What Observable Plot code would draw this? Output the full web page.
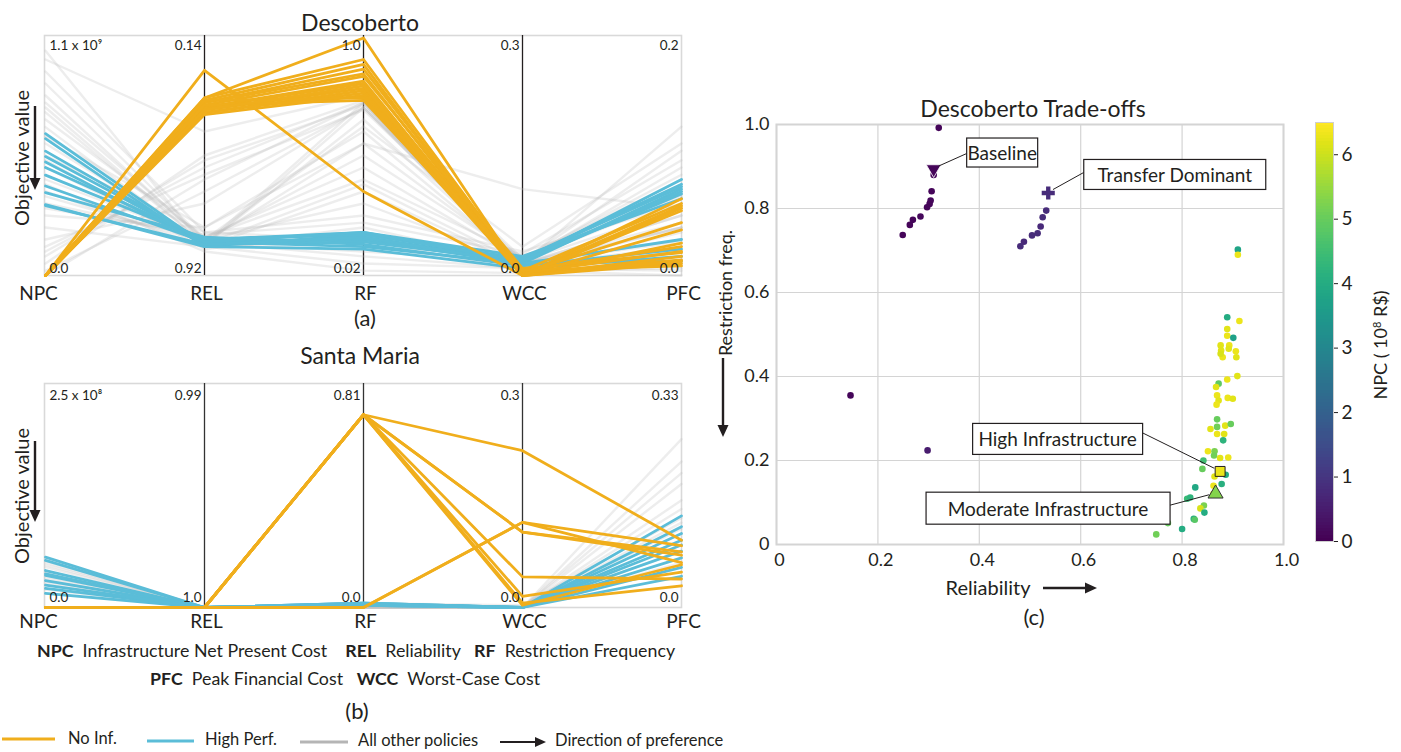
<!DOCTYPE html>
<html><head><meta charset="utf-8">
<script src="https://cdn.jsdelivr.net/npm/d3@7"></script>
<script src="https://cdn.jsdelivr.net/npm/@observablehq/plot@0.6"></script>
<style>
html,body{margin:0;padding:0;background:#fff;}
#root{position:relative;width:1401px;height:752px;overflow:hidden;font-family:Lato,"Open Sans",sans-serif;color:#231f20;}
.t{position:absolute;white-space:nowrap;line-height:1;transform:translate(-50%,-50%);}
.l{position:absolute;white-space:nowrap;line-height:1;transform:translate(0,-50%);}
.r{position:absolute;white-space:nowrap;line-height:1;transform:translate(-50%,-50%) rotate(-90deg);}
b{font-weight:700;}
</style></head>
<body><div id="root"></div>
<script>
// ---------------- DATA ----------------
const axesNames = ["NPC","REL","RF","WCC","PFC"];

// Panel (a) Descoberto — NPC in 10^8 R$, REL, RF, WCC, PFC
const descBottom = [0, 0.92, 0.02, 0, 0];
const descTop = [11, 0.14, 1.0, 0.3, 0.2];
const descTopLabels = ["1.1 x 10⁹","0.14","1.0","0.3","0.2"];
const descBottomLabels = ["0.0","0.92","0.02","0.0","0.0"];
const descNoInf = [
  [0,0.253,0.363,0.000,0.058],[0,0.343,0.990,0.000,0.064],[0,0.343,0.902,0.003,0.044],
  [0,0.351,0.882,0.000,0.038],[0,0.358,0.863,0.006,0.060],[0,0.358,0.843,0.000,0.027],
  [0,0.366,0.833,0.009,0.019],[0,0.374,0.814,0.000,0.016],[0,0.374,0.804,0.003,0.013],
  [0,0.382,0.784,0.000,0.010],[0,0.390,0.775,0.006,0.008],[0,0.390,0.765,0.000,0.056],
  [0,0.397,0.755,0.003,0.020],[0,0.351,0.745,0.000,0.012],[0,0.366,0.735,0.006,0.024],
  [0,0.382,0.794,0.000,0.054]
];
const descHighPerf = [
  [6.50,0.819,0.177,0.018,0.080],[6.27,0.826,0.187,0.021,0.076],[5.45,0.811,0.167,0.015,0.072],
  [5.20,0.819,0.157,0.018,0.068],[4.60,0.803,0.196,0.024,0.064],[4.10,0.811,0.138,0.015,0.030],
  [3.80,0.795,0.147,0.012,0.022],[3.25,0.826,0.128,0.009,0.016],[3.20,0.819,0.177,0.015,0.012],
  [4.95,0.803,0.187,0.021,0.074],[5.70,0.811,0.196,0.018,0.070]
];
const descOther = [
  [10.3,0.826,0.069,0.009,0.020],[8.8,0.803,0.314,0.015,0.050],[8.25,0.811,0.559,0.018,0.090],
  [7.7,0.819,0.726,0.012,0.040],[7.15,0.795,0.412,0.024,0.070],[6.8,0.826,0.216,0.015,0.124],
  [6.05,0.811,0.118,0.018,0.104],[5.5,0.780,0.265,0.030,0.060],[4.95,0.819,0.657,0.015,0.030],
  [4.4,0.803,0.510,0.021,0.080],[3.85,0.826,0.363,0.012,0.010],[3.3,0.795,0.461,0.018,0.056],
  [2.75,0.764,0.608,0.015,0.044],[1.65,0.686,0.706,0.012,0.024],[1.1,0.569,0.726,0.009,0.016],
  [0.55,0.530,0.735,0.006,0.036],[0.88,0.546,0.716,0.015,0.050],[1.32,0.592,0.696,0.018,0.066],
  [2.2,0.826,0.706,0.021,0.084],[6.38,0.764,0.559,0.108,0.056],[9.35,0.780,0.167,0.006,0.000],
  [9.9,0.452,0.755,0.012,0.020],[3.63,0.811,0.098,0.009,0.004],[3.08,0.787,0.236,0.027,0.096],
  [7.48,0.819,0.392,0.015,0.028],[0,0.608,0.726,0.006,0.006],[0.22,0.647,0.706,0.009,0.040],
  [4.18,0.842,0.040,0.003,0.012],[5.28,0.834,0.196,0.015,0.040],[7.92,0.803,0.628,0.036,0.110]
];

// Panel (b) Santa Maria — NPC in 10^8 R$
const smBottom = [0, 1.0, 0, 0, 0];
const smTop = [2.5, 0.99, 0.81, 0.3, 0.33];
const smTopLabels = ["2.5 x 10⁸","0.99","0.81","0.3","0.33"];
const smBottomLabels = ["0.0","1.0","0.0","0.0","0.0"];
const smNoInf = [
  [0,1.0,0.697,0.210,0.099],[0,1.0,0.697,0.101,0.082],[0,1.0,0.697,0.003,0.063],
  [0,1.0,0.697,0.015,0.052],[0,1.0,0.697,0.041,0.042],[0,1.0,0.697,0.006,0.032],
  [0,1.0,0.000,0.114,0.091],[0,1.0,0.000,0.114,0.066],[0,1.0,0.697,0.101,0.077]
];
const smHighPerf = [
  [0.5625,1.0,0.016,0,0.135],[0.525,1.0,0.012,0,0.119],[0.4125,1.0,0.008,0,0.109],
  [0.3575,1.0,0.016,0,0.092],[0.30,1.0,0.012,0,0.083],[0.2125,1.0,0.008,0,0.073],
  [0.1575,1.0,0.016,0,0.059],[0.375,1.0,0.008,0,0.046],[0.25,1.0,0.012,0,0.099]
];
const smOther = [
  [0.50,1.0,0.008,0,0.248],[0.45,1.0,0.0,0,0.215],[0.375,1.0,0.016,0,0.182],
  [0.30,1.0,0.0,0,0.158],[0.55,1.0,0.016,0.003,0.132],[0.25,1.0,0.0,0,0.116],
  [0.20,1.0,0.008,0,0.099],[0.35,1.0,0.0,0,0.083],[0.475,1.0,0.008,0,0.066],
  [0.40,1.0,0.0,0,0.145],[0.275,1.0,0.008,0,0.125],[0.325,1.0,0.0,0,0.198]
];

// Panel (c) Descoberto trade-offs: reliability, restriction frequency, NPC (10^8 R$)
const scRel = [0.320,0.310,0.306,0.304,0.302,0.297,0.284,0.269,0.263,0.249,
  0.532,0.525,0.521,0.515,0.504,0.488,0.481,0.146,0.298,
  0.910,0.910,0.889,0.913,0.889,0.889,0.901,0.876,0.893,0.877,0.892,0.906,0.907,0.880,0.876,
  0.909,0.889,0.872,0.867,0.869,0.872,0.890,0.900,0.868,0.869,0.856,0.869,0.885,0.896,0.869,
  0.883,0.881,0.851,0.864,0.863,0.875,0.891,0.842,0.840,0.886,0.864,0.878,0.826,0.862,0.862,
  0.810,0.816,0.843,0.836,0.844,0.823,0.825,0.772,0.800,0.749];
const scRf = [0.992,0.880,0.841,0.819,0.811,0.803,0.781,0.773,0.761,0.737,
  0.795,0.779,0.757,0.741,0.736,0.721,0.710,0.355,0.224,
  0.702,0.690,0.541,0.532,0.513,0.497,0.492,0.474,0.474,0.462,0.466,0.460,0.446,0.446,0.454,
  0.401,0.393,0.383,0.375,0.355,0.343,0.349,0.347,0.333,0.298,0.275,0.280,0.283,0.287,0.263,
  0.263,0.248,0.222,0.222,0.212,0.206,0.207,0.200,0.180,0.166,0.162,0.144,0.136,0.140,0.121,
  0.109,0.112,0.093,0.086,0.076,0.061,0.059,0.051,0.037,0.024];
const scNpc = [0.1,0.1,0.1,0.15,0.1,0.1,0.15,0.1,0.1,0.1,
  0.8,0.8,0.75,0.8,0.8,0.75,0.8,0.1,0.5,
  3.8,6.3,4.0,6.3,6.2,6.3,3.7,6.2,6.3,6.2,6.2,6.3,6.2,6.3,6.1,
  6.2,6.3,4.9,6.2,6.3,6.2,6.3,6.2,6.3,5.0,6.2,5.1,6.2,5.0,6.3,
  6.2,4.2,6.3,5.2,5.1,6.2,6.3,4.5,5.0,4.0,6.2,4.1,3.9,6.3,6.2,
  4.4,4.2,5.2,6.1,4.0,4.1,4.8,5.0,4.0,5.1];
const markerLabels = ["Baseline","Transfer Dominant","High Infrastructure","Moderate Infrastructure"];
const markerRel = [0.310, 0.536, 0.875, 0.866];
const markerRf = [0.894, 0.837, 0.174, 0.121];
const markerNpc = [0.1, 0.8, 6.3, 5.3];
const colorTicks = [0,1,2,3,4,5,6];

// ---------------- STYLE / LAYOUT ----------------
const FONT = "Lato, 'Open Sans', sans-serif";
const INK = "#231f20";
const ORANGE = "#f0ae1c";
const BLUE = "#5bbdd8";
const root = document.getElementById("root");

function place(el, left, top) {
  el.style.position = "absolute"; el.style.left = left + "px"; el.style.top = top + "px";
  root.appendChild(el); return el;
}
function txt(html, x, y, size, cls = "t", extra = "") {
  const d = document.createElement("div");
  d.className = cls; d.innerHTML = html;
  d.style.left = x + "px"; d.style.top = y + "px"; d.style.fontSize = size + "px";
  if (extra) d.style.cssText += extra;
  root.appendChild(d); return d;
}

function parallelChart(cfg) {
  const norms = axesNames.map((a, i) => d3.scaleLinear().domain([cfg.bottom[i], cfg.top[i]]).range([0, 1]));
  const rows = (lines, g) => lines.flatMap((vals, j) => vals.map((v, i) => ({id: g + j, axis: axesNames[i], f: norms[i](v)})));
  const labels = axesNames.flatMap((a, i) => [
    {axis: a, f: 1, t: cfg.topLabels[i], pos: "top"},
    {axis: a, f: 0, t: cfg.bottomLabels[i], pos: "bottom"}]);
  const lab = (first, pos) => labels.filter(d => (d.axis === "NPC") === first && d.pos === pos);
  return Plot.plot({
    width: 700, height: cfg.height,
    marginLeft: 44, marginRight: 19, marginTop: cfg.mt, marginBottom: cfg.mb,
    style: {fontFamily: FONT, color: INK, background: "transparent", overflow: "visible"},
    x: {type: "point", domain: axesNames, padding: 0, axis: null},
    y: {domain: [0, 1], axis: null},
    marks: [
      Plot.frame({stroke: "#d9d9d9", strokeWidth: 1.6}),
      Plot.ruleX(axesNames.slice(1, 4), {stroke: cfg.axisColor, strokeWidth: 1.3}),
      Plot.line(rows(cfg.other, "o"), {x: "axis", y: "f", z: "id", stroke: "#bdbdbd", strokeOpacity: 0.28, strokeWidth: 2.4}),
      Plot.line(rows(cfg.high, "h"), {x: "axis", y: "f", z: "id", stroke: BLUE, strokeWidth: 2.8}),
      Plot.line(rows(cfg.noinf, "n"), {x: "axis", y: "f", z: "id", stroke: ORANGE, strokeWidth: 2.8}),
      Plot.text(lab(true, "top"), {x: "axis", y: "f", text: "t", textAnchor: "start", dx: 4, dy: cfg.topDy, fontSize: 13.5}),
      Plot.text(lab(true, "bottom"), {x: "axis", y: "f", text: "t", textAnchor: "start", dx: 4, dy: cfg.botDy, fontSize: 13.5}),
      Plot.text(lab(false, "top"), {x: "axis", y: "f", text: "t", textAnchor: "end", dx: -3, dy: cfg.topDy, fontSize: 13.5}),
      Plot.text(lab(false, "bottom"), {x: "axis", y: "f", text: "t", textAnchor: "end", dx: -3, dy: cfg.botDy, fontSize: 13.5}),
      Plot.text(axesNames.slice(0, 1), {x: d => d, frameAnchor: "bottom", lineAnchor: "top", dy: cfg.namePad, dx: -7, fontSize: 19}),
      Plot.text(axesNames.slice(1), {x: d => d, frameAnchor: "bottom", lineAnchor: "top", dy: cfg.namePad, dx: 2, fontSize: 19})
    ]
  });
}

// Panel (a)
place(parallelChart({bottom: descBottom, top: descTop, topLabels: descTopLabels, bottomLabels: descBottomLabels,
  noinf: descNoInf, high: descHighPerf, other: descOther,
  height: 330, mt: 35, mb: 55, topDy: 10, botDy: -7, namePad: 11, axisColor: INK}), 0, 0);
// Panel (b)
place(parallelChart({bottom: smBottom, top: smTop, topLabels: smTopLabels, bottomLabels: smBottomLabels,
  noinf: smNoInf, high: smHighPerf, other: smOther,
  height: 305, mt: 53, mb: 28, topDy: 12, botDy: -10, namePad: 7, axisColor: "#333"}), 0, 330);

// Panel (c) scatter
const scData = scRel.map((r, i) => ({rel: r, rf: scRf[i], npc: scNpc[i]}));
const mk = markerLabels.map((l, i) => ({label: l, rel: markerRel[i], rf: markerRf[i], npc: markerNpc[i]}));
const ticks01 = [0, 0.2, 0.4, 0.6, 0.8, 1.0];
const fmt = d => d === 0 ? "0" : d.toFixed(1);
const scatter = Plot.plot({
  width: 600, height: 520, marginLeft: 76, marginRight: 17, marginTop: 29, marginBottom: 71,
  style: {fontFamily: FONT, color: INK, background: "transparent", overflow: "visible"},
  x: {domain: [0, 1]}, y: {domain: [0, 1]},
  color: {type: "linear", scheme: "viridis", domain: [0, 6.5]},
  marks: [
    Plot.gridX(ticks01, {stroke: "#d4d4d4", strokeOpacity: 1, strokeWidth: 1.2}),
    Plot.gridY(ticks01, {stroke: "#d4d4d4", strokeOpacity: 1, strokeWidth: 1.2}),
    Plot.frame({stroke: "#d4d4d4", strokeWidth: 2}),
    Plot.axisX({ticks: ticks01, tickFormat: fmt, tickSize: 0, tickPadding: 9, fontSize: 18, label: null, dx: 3}),
    Plot.axisY({ticks: ticks01, tickFormat: fmt, tickSize: 0, tickPadding: 7, fontSize: 18, label: null}),
    Plot.dot(scData, {x: "rel", y: "rf", fill: "npc", r: 3.3}),
    Plot.dot(mk.slice(0, 1), {x: "rel", y: "rf", fill: "npc", symbol: "triangle", rotate: 180, r: 5.5, stroke: "#fff", strokeWidth: 0.8}),
    Plot.dot(mk.slice(1, 2), {x: "rel", y: "rf", fill: "npc", symbol: "cross", r: 5.5}),
    Plot.dot(mk.slice(2, 3), {x: "rel", y: "rf", fill: "npc", symbol: "square", r: 5.6, stroke: INK, strokeWidth: 1}),
    Plot.dot(mk.slice(3, 4), {x: "rel", y: "rf", fill: "npc", symbol: "triangle", r: 5.6, stroke: "#333", strokeWidth: 1})
  ]
});
place(scatter, 700, 95);
// annotation boxes (layout offsets from marker, px)
const annLayout = [
  {dx: 69, dy: -16, w: 71, h: 29, side: "left", ly: 1},
  {dx: 127, dy: -18, w: 182, h: 30, side: "left", ly: -2},
  {dx: -162, dy: -32, w: 170, h: 31, side: "right", ly: -6},
  {dx: -167, dy: 15, w: 244, h: 32, side: "right", ly: -3}
];
{
  const sx = scatter.scale("x"), sy = scatter.scale("y");
  const g = d3.select(scatter).append("g").attr("font-family", FONT);
  mk.forEach((m, i) => {
    const L = annLayout[i];
    const px = sx.apply(m.rel), py = sy.apply(m.rf);
    const cx = px + L.dx, cy = py + L.dy;
    const x0 = cx - L.w / 2, y0 = cy - L.h / 2;
    const ex = L.side === "left" ? x0 : x0 + L.w, ey = cy + L.ly;
    const len = Math.hypot(px - ex, py - ey), k = (len - 6) / len;
    g.append("line").attr("x1", ex).attr("y1", ey).attr("x2", ex + (px - ex) * k).attr("y2", ey + (py - ey) * k)
      .attr("stroke", INK).attr("stroke-width", 1);
    g.append("rect").attr("x", x0).attr("y", y0).attr("width", L.w).attr("height", L.h)
      .attr("fill", "#fff").attr("stroke", INK).attr("stroke-width", 1.2);
    g.append("text").attr("x", cx).attr("y", cy).attr("text-anchor", "middle").attr("dominant-baseline", "central")
      .attr("font-size", 19).attr("fill", INK).text(m.label);
  });
}

// colorbar
const cbSteps = d3.range(0, 6.5, 0.05);
const colorbar = Plot.plot({
  width: 100, height: 460, marginLeft: 15, marginRight: 67, marginTop: 22, marginBottom: 19,
  style: {fontFamily: FONT, color: INK, background: "transparent", overflow: "visible"},
  x: {domain: [0, 1], axis: null},
  y: {domain: [0, 6.5]},
  color: {type: "linear", scheme: "viridis", domain: [0, 6.5]},
  marks: [
    Plot.rect(cbSteps, {x1: 0, x2: 1, y1: d => d, y2: d => Math.min(6.5, d + 0.06), fill: d => d + 0.025, shapeRendering: "crispEdges"}),
    Plot.frame({stroke: "#cfcfcf", strokeWidth: 1}),
    Plot.axisY({anchor: "right", ticks: colorTicks, tickFormat: d => String(d), tickSize: 4, tickPadding: 4, fontSize: 19, label: null})
  ]
});
place(colorbar, 1300, 100);

// ---------------- TEXT ----------------
txt("Descoberto", 360, 22, 23);
txt("(a)", 365, 318, 22);
txt("Santa Maria", 360, 355, 23);
txt("Objective value", 21, 158, 20, "r");
txt("Objective value", 21, 496, 20, "r");
txt("<b>NPC</b>&nbsp; Infrastructure Net Present Cost &nbsp;&nbsp; <b>REL</b>&nbsp; Reliability &nbsp;&nbsp;<b>RF</b>&nbsp; Restriction Frequency", 37, 651, 17.8, "l");
txt("<b>PFC</b>&nbsp; Peak Financial Cost &nbsp;&nbsp;<b>WCC</b>&nbsp; Worst-Case Cost", 150, 679, 17.8, "l");
txt("(b)", 357, 711, 22);
txt("Descoberto Trade-offs", 1033, 108, 23);
txt("Reliability", 988, 587, 20);
txt("(c)", 1034, 617, 22);
txt("Restriction freq.", 725, 293, 18, "r");
txt("NPC ( 10<sup style='font-size:11px;vertical-align:6px'>8</sup> R$)", 1380, 345, 18, "r");
txt("No Inf.", 68, 738, 16.5, "l");
txt("High Perf.", 205, 739, 16.5, "l");
txt("All other policies", 358, 740, 16.5, "l");
txt("Direction of preference", 555, 740, 16.5, "l");

// ---------------- DECORATIVE ARROWS / LEGEND SWATCHES ----------------
const ov = d3.select(root).append("svg").attr("width", 1401).attr("height", 752)
  .style("position", "absolute").style("left", "0px").style("top", "0px").style("pointer-events", "none");
function arrow(x1, y1, x2, y2, w = 2.4, head = 12, hw = 5.5) {
  const L = Math.hypot(x2 - x1, y2 - y1), ux = (x2 - x1) / L, uy = (y2 - y1) / L;
  const bx = x2 - ux * head, by = y2 - uy * head;
  ov.append("line").attr("x1", x1).attr("y1", y1).attr("x2", bx).attr("y2", by).attr("stroke", INK).attr("stroke-width", w);
  ov.append("polygon").attr("points", `${x2},${y2} ${bx - uy * hw},${by + ux * hw} ${bx + uy * hw},${by - ux * hw}`).attr("fill", INK);
}
arrow(35, 106, 35, 190);
arrow(35, 441, 35, 522);
arrow(723, 358, 723, 437);
arrow(1043, 588, 1097, 588);
arrow(500, 742, 546, 742, 2.2, 11, 5);
const sw = (x1, x2, y, c, o = 1) => ov.append("line").attr("x1", x1).attr("x2", x2).attr("y1", y).attr("y2", y)
  .attr("stroke", c).attr("stroke-width", 3).attr("stroke-opacity", o);
sw(2, 55, 739, ORANGE);
sw(147, 194, 741, BLUE);
sw(300, 348, 742, "#b5b5b5");
</script>
</body></html>
